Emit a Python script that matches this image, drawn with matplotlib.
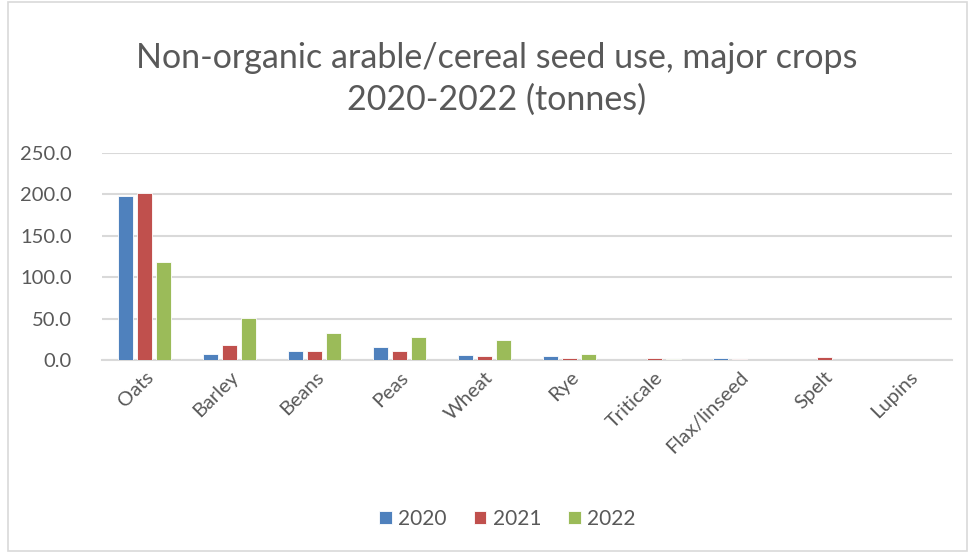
import matplotlib.pyplot as plt
import numpy as np
from matplotlib.patches import Rectangle

crops = ["Oats", "Barley", "Beans", "Peas", "Wheat", "Rye", "Triticale",
         "Flax/linseed", "Spelt", "Lupins"]
years = ["2020", "2021", "2022"]
t2020 = [198.0, 6.8, 10.5, 15.7, 6.0, 4.4, 0.3, 2.4, 0.0, 0.0]
t2021 = [202.0, 18.1, 11.3, 11.3, 4.8, 2.4, 2.2, 1.2, 3.6, 0.0]
t2022 = [118.7, 51.0, 32.6, 27.8, 24.0, 6.8, 0.9, 0.3, 0.0, 0.0]
colors = ["#4f81bd", "#c0504d", "#9bbb59"]
yticks = [0, 50, 100, 150, 200, 250]

plt.rcParams['font.family'] = ['Lato', 'DejaVu Sans']

fig = plt.figure(figsize=(9.74, 5.54), dpi=100)
ax = fig.add_axes([0.105, 0.35, 0.872, 0.374])

x = np.arange(len(crops))
step = 0.224
width = 0.177
for i, (vals, yr, c) in enumerate(zip([t2020, t2021, t2022], years, colors)):
    ax.bar(x + (i - 1) * step, vals, width, color=c, label=yr,
           edgecolor="white", linewidth=0.6, zorder=3)

ax.set_xlim(-0.5, len(crops) - 0.5)
ax.set_ylim(0, 250)
ax.set_yticks(yticks)
ax.set_yticklabels([f"{v:.1f}" for v in yticks])
ax.yaxis.grid(True, color="#d9d9d9", linewidth=1.5, zorder=0)
ax.set_axisbelow(True)
for s in ["top", "right", "left"]:
    ax.spines[s].set_visible(False)
ax.spines["bottom"].set_color("#d9d9d9")
ax.spines["bottom"].set_linewidth(1.5)
ax.tick_params(axis="y", length=0, labelsize=14.5, labelcolor="#595959", pad=22)
ax.tick_params(axis="x", length=0, labelsize=14.5, labelcolor="#595959", pad=6)
ax.set_xticks(x)
ax.set_xticklabels(crops, rotation=45, ha="right", rotation_mode="anchor")

fig.text(0.51, 0.858, "Non-organic arable/cereal seed use, major crops\n2020-2022 (tonnes)",
         ha="center", va="center", fontsize=24.5, color="#595959", linespacing=1.38)

leg = fig.legend(loc="center", bbox_to_anchor=(0.521, 0.063), ncol=3, frameon=False,
                 fontsize=15, handlelength=0.6, handleheight=0.6, columnspacing=1.3,
                 handletextpad=0.3)
for t in leg.get_texts():
    t.set_color("#595959")

fig.patches.append(Rectangle((0.008, 0.006), 0.985, 0.99, transform=fig.transFigure,
                             fill=False, edgecolor="#d9d9d9", linewidth=1.2))

fig.savefig("out.png", dpi=100, facecolor="white")
